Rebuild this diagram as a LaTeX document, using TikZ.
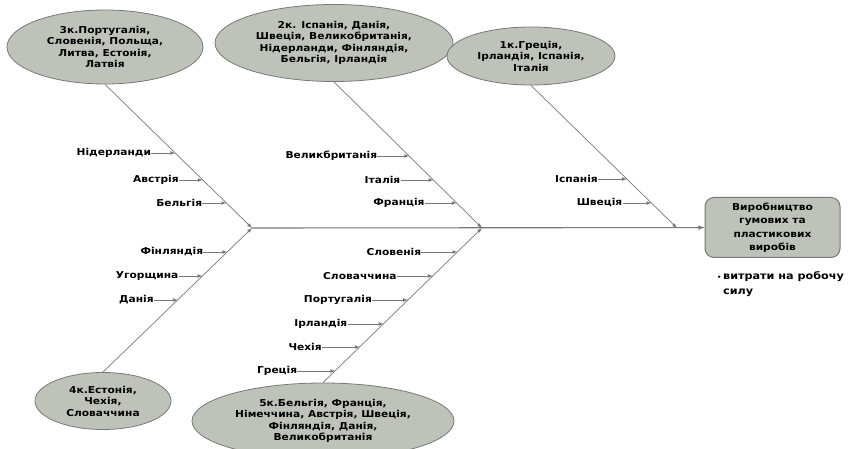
\documentclass[tikz,border=0pt]{standalone}
\usepackage{fontspec}
\setmainfont[FakeStretch=1.12]{DejaVu Sans}
\usetikzlibrary{shapes.geometric,positioning}
\definecolor{causefill}{RGB}{190,195,185}
\definecolor{linegray}{RGB}{120,120,120}
\tikzset{
  cause/.style={ellipse, draw=linegray, line width=0.8pt, fill=causefill, inner sep=0pt, align=center,
    font=\bfseries\fontsize{9.5}{11.5}\selectfont},
  effect/.style={rectangle, rounded corners=9pt, draw=linegray, line width=1pt, fill=causefill, align=center,
    minimum width=135pt, minimum height=60pt, font=\bfseries\fontsize{9.5}{13.5}\selectfont},
  bone/.style={draw=linegray, line width=0.7pt, -latex},
  sub/.style={draw=linegray, line width=0.7pt, -latex},
  lbl/.style={inner sep=0pt, font=\bfseries\fontsize{9.5}{11}\selectfont},
}

\begin{document}
\begin{tikzpicture}[x=1pt, y=-1pt]
  \useasboundingbox (0,0) rectangle (849,449);

  % causes
  \node[cause, minimum width=196pt, minimum height=74pt] (c3) at (105,47) {3к.Португалія,\\Словенія, Польща,\\Литва, Естонія,\\Латвія};
  \node[cause, minimum width=238pt, minimum height=77pt] (c2) at (334,43) {2к. Іспанія, Данія,\\Швеція, Великобританія,\\Нідерланди, Фінляндія,\\Бельгія, Ірландія};
  \node[cause, minimum width=168pt, minimum height=58pt] (c1) at (531,56) {1к.Греція,\\Ірландія, Іспанія,\\Італія};
  \node[cause, minimum width=136pt, minimum height=57pt] (c4) at (103,401) {4к.Естонія,\\Чехія,\\Словаччина};
  \node[cause, minimum width=262pt, minimum height=76pt] (c5) at (323,421) {5к.Бельгія, Франція,\\Німеччина, Австрія, Швеція,\\Фінляндія, Данія,\\Великобританія};

  % effect
  \node[effect] (res) at (772.5,227.5) {Виробництво\\гумових та\\пластикових\\виробів};
  \node[lbl, anchor=north west, font=\bfseries\fontsize{10}{15}\selectfont] (note) at (717,269) {\begin{tabular}{@{}l@{\,}l@{}}{\fontsize{6}{6}\selectfont\textbullet} & витрати на робочу\\ & силу\end{tabular}};

  % spine and bones
  \coordinate (j1) at (252,228);
  \coordinate (j2) at (482,228);
  \coordinate (j3) at (677,228);
  \draw[bone, line width=1.1pt] (j1) -- (res);
  \draw[bone] (c3.south) -- (j1);
  \draw[bone] (c4.north) -- (j1);
  \draw[bone] (c2.south) -- (j2);
  \draw[bone] (c5.north) -- (j2);
  \draw[bone] (c1.south) -- (j3);

  % 3k (upper left)
  \coordinate (t31) at (175.2,153);
  \coordinate (t32) at (202.8,180);
  \coordinate (t33) at (226.4,203);
  \node[lbl, left=24pt of t31] (l31) {Нідерланди};
  \node[lbl, left=24pt of t32] (l32) {Австрія};
  \node[lbl, left=24pt of t33] (l33) {Бельгія};
  \draw[sub] (l31) -- (t31);
  \draw[sub] (l32) -- (t32);
  \draw[sub] (l33) -- (t33);

  % 4k (lower left)
  \coordinate (t41) at (227.3,252);
  \coordinate (t42) at (202.5,276);
  \coordinate (t43) at (177.8,300);
  \node[lbl, left=24pt of t41] (l41) {Фінляндія};
  \node[lbl, left=24pt of t42] (l42) {Угорщина};
  \node[lbl, left=24pt of t43] (l43) {Данія};
  \draw[sub] (l41) -- (t41);
  \draw[sub] (l42) -- (t42);
  \draw[sub] (l43) -- (t43);

  % 2k (upper middle)
  \coordinate (t21) at (409.3,156);
  \coordinate (t22) at (433.5,180);
  \coordinate (t23) at (456.7,203);
  \node[lbl, left=32pt of t21] (l21) {Великбританія};
  \node[lbl, left=33pt of t22] (l22) {Італія};
  \node[lbl, left=32pt of t23] (l23) {Франція};
  \draw[sub] (l21) -- (t21);
  \draw[sub] (l22) -- (t22);
  \draw[sub] (l23) -- (t23);

  % 5k (lower middle)
  \coordinate (t51) at (457.4,252);
  \coordinate (t52) at (432.8,276);
  \coordinate (t53) at (408.1,300);
  \coordinate (t54) at (383.5,324);
  \coordinate (t55) at (359.9,347);
  \coordinate (t56) at (335.3,371);
  \node[lbl, left=36pt of t51] (l51) {Словенія};
  \node[lbl, left=36pt of t52] (l52) {Словаччина};
  \node[lbl, left=36pt of t53] (l53) {Португалія};
  \node[lbl, left=36pt of t54] (l54) {Ірландія};
  \node[lbl, left=38pt of t55] (l55) {Чехія};
  \node[lbl, left=38pt of t56] (l56) {Греція};
  \draw[sub] (l51) -- (t51);
  \draw[sub] (l52) -- (t52);
  \draw[sub] (l53) -- (t53);
  \draw[sub] (l54) -- (t54);
  \draw[sub] (l55) -- (t55);
  \draw[sub] (l56) -- (t56);

  % 1k (upper right)
  \coordinate (t11) at (627.0,179);
  \coordinate (t12) at (651.5,203);
  \node[lbl, left=29pt of t11] (l11) {Іспанія};
  \node[lbl, left=29pt of t12] (l12) {Швеція};
  \draw[sub] (l11) -- (t11);
  \draw[sub] (l12) -- (t12);
\end{tikzpicture}
\end{document}
